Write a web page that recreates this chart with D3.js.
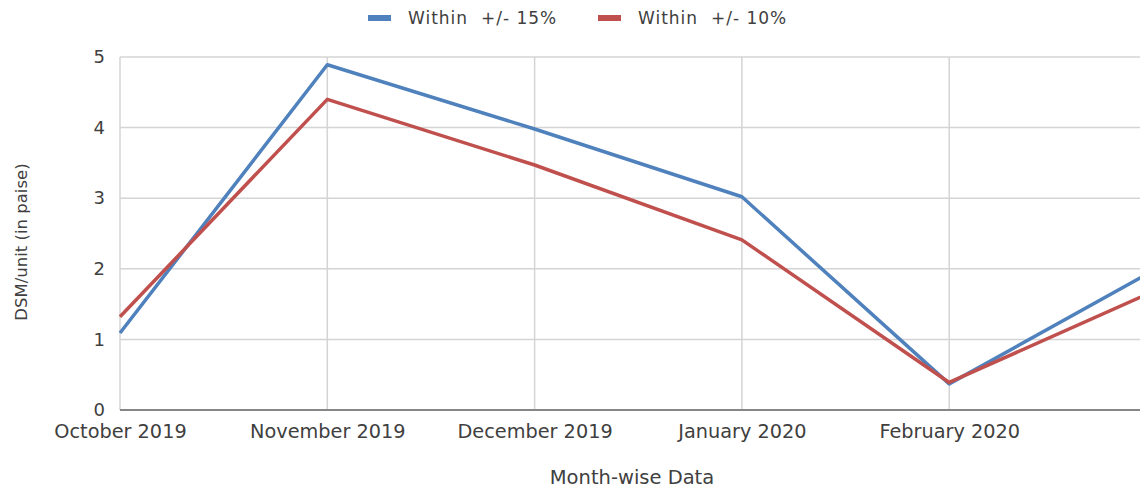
<!DOCTYPE html>
<html><head><meta charset="utf-8">
<style>
body { margin: 0; background: #fff; overflow: hidden; }
text { font-family: "DejaVu Sans", sans-serif; fill: #404040; }
.grid line { stroke: #d4d4d4; stroke-width: 1.5; }
.axis .domain { display: none; }
.axis .tick line { display: none; }
</style>
</head>
<body>
<svg width="1140" height="489"></svg>
<script src="https://cdn.jsdelivr.net/npm/d3@7"></script>
<script>

// months on the x axis (March is cut off at the right edge of the picture)
var months = ["October 2019", "November 2019", "December 2019", "January 2020", "February 2020", "March 2020"];
var shownMonths = months.slice(0, 5);
var yTicks = [0, 1, 2, 3, 4, 5];

var within15 = [1.09, 4.89, 3.98, 3.02, 0.37, 2.00];
var within10 = [1.32, 4.40, 3.47, 2.41, 0.39, 1.70];

var seriesNames = ["Within  +/- 15%", "Within  +/- 10%"];
var colors = ["#4f81bd", "#c0504d"];

var svg = d3.select("svg"),
    plotLeft = 120, plotTop = 57, plotBottom = 410,
    plotRight = plotLeft + 5 * 207.3;

var x = d3.scalePoint().domain(months).range([plotLeft, plotRight]);
var y = d3.scaleLinear().domain([0, 5]).range([plotBottom, plotTop]);

// grid
var grid = svg.append("g").attr("class", "grid");
grid.selectAll(".h").data(yTicks.slice(1)).enter().append("line")
    .attr("x1", plotLeft).attr("x2", plotRight + 20)
    .attr("y1", function(d) { return y(d); })
    .attr("y2", function(d) { return y(d); });
grid.selectAll(".v").data(months).enter().append("line")
    .attr("x1", function(d) { return x(d); })
    .attr("x2", function(d) { return x(d); })
    .attr("y1", plotTop).attr("y2", plotBottom);

// bottom axis line
svg.append("line")
    .attr("x1", plotLeft).attr("x2", plotRight + 20)
    .attr("y1", plotBottom).attr("y2", plotBottom)
    .attr("stroke", "#868686").attr("stroke-width", 2);

// axes
svg.append("g")
    .attr("class", "axis")
    .attr("transform", "translate(0," + plotBottom + ")")
    .call(d3.axisBottom(x).tickValues(shownMonths).tickSize(0).tickPadding(14))
    .selectAll("text")
    .attr("font-size", 19.3)
    .attr("fill", "#404040");

svg.append("g")
    .attr("class", "axis")
    .attr("transform", "translate(" + plotLeft + ",0)")
    .call(d3.axisLeft(y).tickValues(yTicks).tickFormat(d3.format("d")).tickSize(0).tickPadding(15))
    .selectAll("text")
    .attr("font-size", 18)
    .attr("fill", "#404040");

// lines
var line = d3.line()
    .x(function(d, i) { return x(months[i]); })
    .y(function(d) { return y(d); });

[within15, within10].forEach(function(s, i) {
  svg.append("path")
      .datum(s)
      .attr("fill", "none")
      .attr("stroke", colors[i])
      .attr("stroke-width", 3.5)
      .attr("stroke-linejoin", "round")
      .attr("d", line);
});

// axis titles
svg.append("text")
    .attr("transform", "translate(27,242) rotate(-90)")
    .attr("text-anchor", "middle")
    .attr("font-size", 16.5)
    .text("DSM/unit (in paise)");

svg.append("text")
    .attr("x", 632).attr("y", 484)
    .attr("text-anchor", "middle")
    .attr("font-size", 19.5)
    .text("Month-wise Data");

// legend
var legend = svg.append("g")
  .selectAll("g")
  .data(seriesNames)
  .enter().append("g")
    .attr("transform", function(d, i) { return "translate(" + (368 + i * 230) + ",18)"; });

legend.append("rect")
    .attr("y", -3).attr("width", 23).attr("height", 6)
    .attr("fill", function(d, i) { return colors[i]; });

legend.append("text")
    .attr("x", 40).attr("dy", "0.36em")
    .attr("font-size", 17)
    .style("white-space", "pre")
    .attr("letter-spacing", 1)
    .text(function(d) { return d; });

</script>
</body></html>
